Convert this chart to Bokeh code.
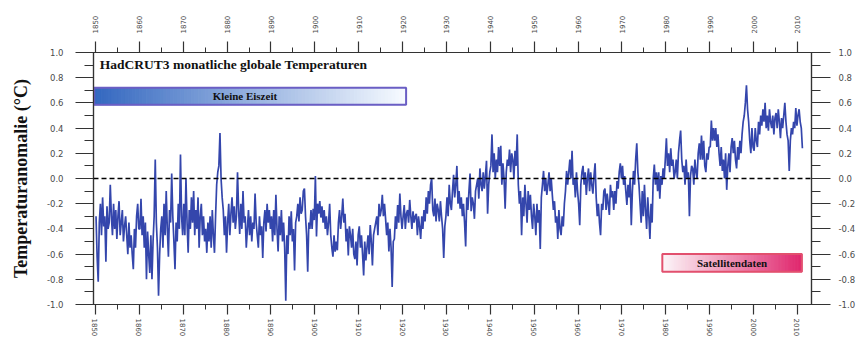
import numpy as np
from bokeh.plotting import figure
from bokeh.models import LinearAxis, FixedTicker, Range1d, Span, Label
from bokeh.embed import file_html
from bokeh.resources import INLINE

# ---------------- data (quarterly samples) ----------------
START_YEAR = 1850
PER_YEAR = 4

t1850s = [-0.30, -0.62, -0.82, -0.35, -0.20, -0.45, -0.15, -0.38, -0.30, -0.66, -0.22, -0.40,
          -0.35, -0.05, -0.30, -0.45, -0.20, -0.40, -0.25, -0.48, -0.30, -0.18, -0.45, -0.35,
          -0.25, -0.50, -0.38, -0.30, -0.45, -0.60, -0.35, -0.55, -0.45, -0.60, -0.72, -0.40,
          -0.55, -0.30, -0.20, -0.40]
t1860s = [-0.40, -0.16, -0.45, -0.30, -0.55, -0.35, -0.80, -0.42, -0.60, -0.75, -0.45, -0.80,
          -0.50, -0.30, 0.15, -0.35, -0.55, -0.93, -0.60, -0.40, -0.30, -0.55, -0.20, -0.45,
          -0.10, -0.40, -0.62, -0.25, -0.35, 0.04, -0.30, -0.50, -0.72, -0.35, -0.50, -0.20,
          -0.40, 0.19, -0.30, -0.45]
t1870s = [-0.20, -0.45, 0.00, -0.35, -0.59, -0.25, -0.40, -0.15, -0.35, -0.10, -0.45, -0.25,
          -0.40, -0.15, -0.55, -0.30, -0.20, -0.45, -0.30, -0.50, -0.40, -0.59, -0.35, -0.50,
          -0.30, -0.55, -0.25, -0.45, -0.59, -0.30, -0.05, 0.05, 0.10, 0.36, 0.00, -0.15,
          -0.25, -0.45, -0.30, -0.59]
t1880s = [-0.35, -0.20, -0.45, -0.28, -0.15, -0.35, -0.22, -0.40, -0.30, 0.05, -0.25, -0.44,
          -0.20, -0.40, -0.10, -0.35, -0.30, -0.55, -0.40, -0.25, -0.45, -0.30, -0.50, -0.35,
          -0.40, -0.12, -0.35, -0.45, -0.55, -0.30, -0.45, -0.38, -0.63, -0.35, -0.25, -0.42,
          -0.20, -0.35, -0.25, -0.40]
t1890s = [-0.30, -0.50, -0.25, -0.45, -0.13, -0.40, -0.58, -0.30, -0.45, -0.25, -0.50, -0.35,
          -0.55, -0.97, -0.45, -0.60, -0.30, -0.45, -0.26, -0.50, -0.40, -0.73, -0.35, -0.30,
          -0.20, -0.34, -0.15, -0.28, -0.25, -0.10, -0.08, -0.30, -0.45, -0.74, -0.35, -0.40,
          -0.25, -0.40, -0.24, -0.33]
t1900s = [0.02, -0.46, -0.20, -0.28, -0.18, -0.31, -0.22, -0.35, -0.25, -0.40, -0.30, -0.45,
          -0.35, -0.20, -0.45, -0.55, -0.62, -0.45, -0.58, -0.50, -0.57, -0.35, -0.25, -0.40,
          -0.30, -0.16, -0.35, -0.28, -0.50, -0.40, -0.61, -0.38, -0.45, -0.55, -0.40, -0.60,
          -0.64, -0.50, -0.69, -0.45]
t1910s = [-0.38, -0.55, -0.45, -0.60, -0.77, -0.50, -0.65, -0.55, -0.45, -0.60, -0.37, -0.50,
          -0.69, -0.45, -0.40, -0.35, -0.30, -0.45, -0.20, -0.30, -0.25, -0.13, -0.30, -0.20,
          -0.32, -0.45, -0.35, -0.58, -0.40, -0.55, -0.86, -0.50, -0.48, -0.30, -0.40, -0.21,
          -0.35, -0.12, -0.30, -0.40]
t1920s = [-0.30, -0.21, -0.40, -0.28, -0.25, -0.35, -0.17, -0.30, -0.40, -0.26, -0.35, -0.30,
          -0.28, -0.45, -0.30, -0.38, -0.48, -0.30, -0.40, -0.25, -0.34, -0.15, -0.28, -0.10,
          -0.20, -0.05, 0.00, -0.25, -0.30, -0.16, -0.34, -0.20, -0.25, -0.34, -0.18, -0.30,
          -0.40, -0.63, -0.38, -0.30]
t1930s = [-0.15, -0.30, -0.05, -0.20, -0.25, -0.10, 0.03, -0.15, -0.05, 0.10, -0.20, -0.10,
          -0.24, -0.15, -0.30, -0.20, -0.35, -0.54, -0.15, -0.25, -0.10, 0.04, -0.26, -0.15,
          -0.20, -0.32, -0.10, -0.05, 0.00, -0.16, 0.08, -0.05, -0.10, 0.05, -0.08, 0.02,
          0.14, -0.28, -0.05, 0.05]
t1940s = [0.10, 0.35, 0.05, 0.20, 0.00, 0.15, 0.05, 0.25, 0.10, 0.26, -0.05, 0.12,
          0.00, -0.24, 0.05, 0.15, 0.10, 0.23, 0.05, 0.20, 0.15, 0.00, 0.22, 0.10,
          0.35, -0.05, -0.20, -0.10, -0.45, -0.15, -0.30, -0.05, -0.20, -0.35, -0.10, -0.25,
          -0.13, -0.30, -0.40, -0.20]
t1950s = [-0.30, -0.45, -0.20, -0.35, -0.25, -0.56, -0.15, -0.05, 0.06, -0.10, 0.00, -0.13,
          -0.05, 0.05, -0.10, 0.00, -0.13, -0.25, -0.18, -0.35, -0.30, -0.48, -0.25, -0.40,
          -0.45, -0.30, -0.38, -0.20, -0.10, 0.06, -0.05, 0.05, 0.15, 0.00, 0.22, -0.05,
          0.00, -0.15, 0.05, -0.10]
t1960s = [-0.20, -0.37, -0.05, 0.05, 0.10, -0.05, 0.05, -0.13, 0.00, 0.08, -0.10, 0.05,
          -0.05, -0.12, 0.02, 0.12, -0.15, -0.30, -0.20, -0.35, -0.45, -0.20, -0.25, -0.10,
          -0.08, -0.25, -0.12, -0.20, -0.29, -0.05, -0.15, -0.10, -0.25, -0.10, -0.20, -0.02,
          -0.08, 0.05, 0.12, 0.00]
t1970s = [0.10, -0.05, 0.02, -0.10, -0.21, -0.05, -0.15, 0.00, -0.37, -0.10, 0.06, -0.05,
          0.15, 0.28, 0.05, -0.05, -0.20, -0.35, -0.10, -0.30, -0.05, -0.25, -0.40, -0.15,
          -0.30, -0.48, -0.20, -0.35, 0.00, 0.11, -0.05, 0.05, -0.10, 0.05, -0.16, 0.02,
          -0.05, 0.08, 0.00, 0.15]
t1980s = [0.32, 0.10, 0.20, 0.05, 0.24, 0.10, 0.15, 0.00, 0.05, 0.15, 0.00, 0.20,
          0.30, 0.38, 0.15, 0.05, 0.10, -0.05, 0.15, 0.00, 0.05, -0.30, 0.02, 0.10,
          0.08, -0.05, 0.15, 0.05, 0.00, 0.20, 0.28, 0.15, 0.34, 0.15, 0.30, 0.10,
          0.05, 0.20, 0.15, 0.25]
t1990s = [0.25, 0.46, 0.30, 0.40, 0.30, 0.40, 0.25, 0.35, 0.20, 0.10, 0.25, 0.06,
          0.15, 0.00, 0.20, -0.09, 0.10, 0.20, 0.05, 0.25, 0.32, 0.20, 0.30, 0.15,
          0.08, 0.25, 0.15, 0.30, 0.20, 0.35, 0.45, 0.50, 0.60, 0.74, 0.55, 0.45,
          0.30, 0.20, 0.40, 0.25]
t2000s = [0.22, 0.40, 0.30, 0.25, 0.45, 0.35, 0.50, 0.42, 0.55, 0.45, 0.60, 0.40,
          0.50, 0.38, 0.55, 0.45, 0.40, 0.50, 0.35, 0.48, 0.52, 0.40, 0.55, 0.45,
          0.32, 0.48, 0.40, 0.50, 0.60, 0.45, 0.35, 0.30, 0.06, 0.30, 0.40, 0.35,
          0.45, 0.40, 0.56, 0.42]
t2010s = [0.50, 0.55, 0.45, 0.40, 0.24]

x_ticks = [1850, 1860, 1870, 1880, 1890, 1900, 1910, 1920, 1930, 1940,
           1950, 1960, 1970, 1980, 1990, 2000, 2010]
x_minor = [1855, 1865, 1875, 1885, 1895, 1905, 1915, 1925, 1935, 1945,
           1955, 1965, 1975, 1985, 1995, 2005]
y_ticks = [-1.0, -0.8, -0.6, -0.4, -0.2, 0.0, 0.2, 0.4, 0.6, 0.8, 1.0]
y_minor = [-0.9, -0.7, -0.5, -0.3, -0.1, 0.1, 0.3, 0.5, 0.7, 0.9]
y_labels = ["-1.0", "-0.8", "-0.6", "-0.4", "-0.2", "0.0", "0.2", "0.4", "0.6", "0.8", "1.0"]

ice_age = (1849.7, 1920.8, 0.585, 0.72)       # Kleine Eiszeit band
satellite = (1979.2, 2011.0, -0.74, -0.60)    # Satellitendaten band

temps = (t1850s + t1860s + t1870s + t1880s + t1890s + t1900s + t1910s + t1920s +
         t1930s + t1940s + t1950s + t1960s + t1970s + t1980s + t1990s + t2000s + t2010s)
years = [START_YEAR + (i + 0.5) / PER_YEAR for i in range(len(temps))]

# ---------------- figure ----------------
p = figure(width=861, height=340, output_backend="svg", toolbar_location=None,
           x_range=Range1d(1849.55, 2013.2), y_range=Range1d(-1.0, 1.0),
           min_border_left=93, min_border_right=50, min_border_top=52, min_border_bottom=36)
p.grid.visible = False
p.outline_line_color = "#333333"
p.outline_line_width = 1.2
p.background_fill_color = "white"
p.border_fill_color = "white"

AX = "#333333"
LBL = "#4a4a4a"

def style_x(ax, tick_out, minor_out, standoff):
    ax.ticker = FixedTicker(ticks=x_ticks, minor_ticks=x_minor)
    ax.axis_line_color = AX
    ax.axis_line_width = 1.2
    ax.major_tick_line_color = AX
    ax.minor_tick_line_color = AX
    ax.major_tick_line_width = 1.2
    ax.major_tick_in = 0
    ax.major_tick_out = tick_out
    ax.minor_tick_in = 0
    ax.minor_tick_out = minor_out
    ax.major_label_orientation = "vertical"
    ax.major_label_standoff = standoff
    ax.major_label_text_font = "DejaVu Sans"
    ax.major_label_text_font_size = "7px"
    ax.major_label_text_color = LBL

def style_y(ax, tick_out, minor_out, standoff):
    ax.ticker = FixedTicker(ticks=y_ticks, minor_ticks=y_minor)
    ax.major_label_overrides = {t: l for t, l in zip(y_ticks, y_labels)}
    ax.axis_line_color = AX
    ax.axis_line_width = 1.2
    ax.major_tick_line_color = AX
    ax.minor_tick_line_color = AX
    ax.major_tick_line_width = 1.2
    ax.major_tick_in = 0
    ax.major_tick_out = tick_out
    ax.minor_tick_in = 0
    ax.minor_tick_out = minor_out
    ax.major_label_standoff = standoff
    ax.major_label_text_font = "DejaVu Sans"
    ax.major_label_text_font_size = "8.5px"
    ax.major_label_text_color = LBL

style_x(p.xaxis[0], 10, 5, 4)
top = LinearAxis()
style_x(top, 11, 5, 8)
p.add_layout(top, "above")

style_y(p.yaxis[0], 18, 9, 12)
p.yaxis[0].axis_label = "Temperaturanomalie (°C)"
p.yaxis[0].axis_label_text_font = "Liberation Serif"
p.yaxis[0].axis_label_text_font_style = "bold"
p.yaxis[0].axis_label_text_font_size = "18px"
p.yaxis[0].axis_label_text_color = "#111111"
p.yaxis[0].axis_label_standoff = 13
right = LinearAxis()
style_y(right, 19, 9, 8)
p.add_layout(right, "right")

# gradient boxes
def gradient_box(box, c0, c1, border, n=90):
    x0, x1, y0, y1 = box
    edges = np.linspace(x0, x1, n + 1)
    t = np.linspace(0, 1, n)
    cols = ["#%02x%02x%02x" % tuple(int(round(a + (b - a) * f)) for a, b in zip(c0, c1)) for f in t]
    p.quad(left=edges[:-1], right=edges[1:], bottom=y0, top=y1,
           fill_color=cols, line_color=cols, line_width=1)
    p.quad(left=[x0], right=[x1], bottom=[y0], top=[y1],
           fill_color=None, line_color=border, line_width=2)

gradient_box(ice_age, (52, 104, 192), (246, 250, 255), "#6a5ec4")
gradient_box(satellite, (252, 246, 249), (224, 40, 110), "#e2506e")

p.add_layout(Span(location=0, dimension="width", line_color="black",
                  line_dash="5 3", line_width=1.3))

p.line(years, temps, line_color="#3446ac", line_width=1.7)

p.add_layout(Label(x=1851.0, y=0.905, text="HadCRUT3 monatliche globale Temperaturen",
                   text_font="Liberation Serif", text_font_style="bold",
                   text_font_size="13.5px", text_baseline="middle", text_align="left",
                   text_color="#111111"))
p.add_layout(Label(x=(ice_age[0] + ice_age[1]) / 2 - 1.2, y=(ice_age[2] + ice_age[3]) / 2,
                   text="Kleine Eiszeit", text_font="Liberation Serif",
                   text_font_style="bold", text_font_size="11px",
                   text_baseline="middle", text_align="center", text_color="#111111"))
p.add_layout(Label(x=(satellite[0] + satellite[1]) / 2, y=(satellite[2] + satellite[3]) / 2,
                   text="Satellitendaten", text_font="Liberation Serif",
                   text_font_style="bold", text_font_size="11px",
                   text_baseline="middle", text_align="center", text_color="#111111"))

open("out.html", "w").write(file_html(p, INLINE))
